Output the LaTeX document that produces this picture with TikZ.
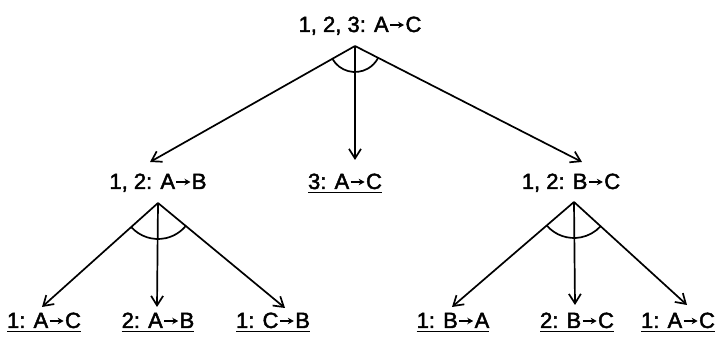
\documentclass[tikz,border=0pt]{standalone}
\usepackage{fontspec}
\setmainfont{Liberation Sans}
\newfontfamily\lblfont{Liberation Sans}[FakeBold=2]
\usetikzlibrary{arrows.meta}
\newcommand{\ar}{\hspace{0.8pt}\tikz[baseline=0pt]\draw[line width=1.2pt,-{Stealth[length=6pt,width=6.5pt]}] (0pt,7pt) -- (14pt,7pt);\hspace{0.8pt}}
\newcommand{\ulx}[1]{\setbox0\hbox{#1}\rlap{\rule[-4.5pt]{\wd0}{1.5pt}}\box0}
\begin{document}
\begin{tikzpicture}[x=1pt,y=1pt,
  lbl/.style={inner sep=0pt,anchor=base,font=\lblfont\fontsize{22}{24}\selectfont},
  edge/.style={line width=1.7pt,-{Straight Barb[length=9.5pt,width=12pt]}},
  arcline/.style={line width=1.7pt}]
\useasboundingbox (0,0) rectangle (718,339);
% nodes
\node[lbl] (top) at (360,307) {1, 2, 3: A\ar C};
\node[lbl] (ab) at (158,150) {1, 2: A\ar B};
\node[lbl] (ac) at (345,150) {\ulx{3: A\ar C}};
\node[lbl] (bc) at (571,150) {1, 2: B\ar C};
\node[lbl] (l1) at (44,11) {\ulx{1: A\ar C}};
\node[lbl] (l2) at (158,11) {\ulx{2: A\ar B}};
\node[lbl] (l3) at (273,11) {\ulx{1: C\ar B}};
\node[lbl] (r1) at (453,11) {\ulx{1: B\ar A}};
\node[lbl] (r2) at (577,11) {\ulx{2: B\ar C}};
\node[lbl] (r3) at (678,11) {\ulx{1: A\ar C}};
% apexes and tips
\coordinate (p0) at (355,293);
\coordinate (t1) at (150,177);
\coordinate (t2) at (355,179);
\coordinate (t3) at (582,177);
\coordinate (p1) at (158,136);
\coordinate (u1) at (42,32);
\coordinate (u2) at (157,32);
\coordinate (u3) at (285,31);
\coordinate (p2) at (574,137);
\coordinate (v1) at (452,32);
\coordinate (v2) at (575,34);
\coordinate (v3) at (687,34);
% edges
\draw[edge] (p0) -- (t1);
\draw[edge] (p0) -- (t2);
\draw[edge] (p0) -- (t3);
\draw[edge] (p1) -- (u1);
\draw[edge] (p1) -- (u2);
\draw[edge] (p1) -- (u3);
\draw[edge] (p2) -- (v1);
\draw[edge] (p2) -- (v2);
\draw[edge] (p2) -- (v3);
% arcs
\draw[arcline] ([shift={(209.5:26)}]p0) arc[start angle=209.5,end angle=332.9,radius=26];
\draw[arcline] ([shift={(221.9:36)}]p1) arc[start angle=221.9,end angle=320.4,radius=36];
\draw[arcline] ([shift={(220.7:36)}]p2) arc[start angle=220.7,end angle=317.7,radius=36];
\end{tikzpicture}
\end{document}
